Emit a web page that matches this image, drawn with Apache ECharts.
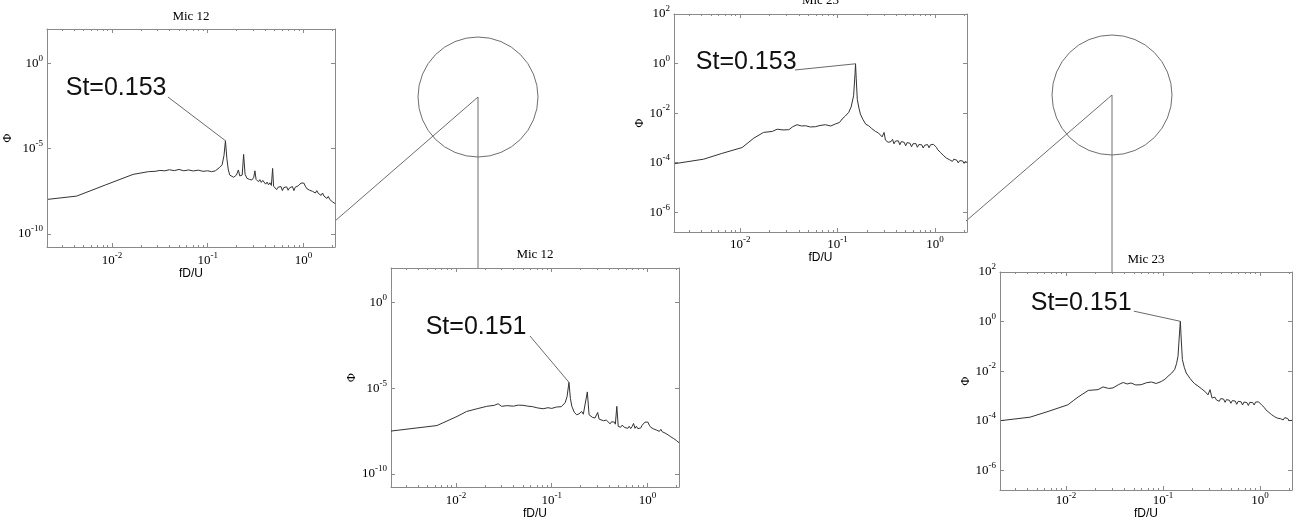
<!DOCTYPE html>
<html>
<head>
<meta charset="utf-8">
<script src="https://cdn.jsdelivr.net/npm/echarts@6/dist/echarts.min.js"></script>
<style>
  html, body { margin: 0; padding: 0; background: #fff; }
  #chart { width: 1296px; height: 524px; }
</style>
</head>
<body>
<div id="chart"></div>
<script>
// spectra, stored as log10 values (fD/U and Phi)
const m12aLogF = [-2.67,-2.37,-2.07,-1.78,-1.62,-1.55,-1.50,-1.45,-1.40,-1.35,-1.30,-1.25,-1.20,-1.15,-1.10,-1.05,-1.00,-0.96,-0.92,-0.88,-0.85,-0.83,-0.815,-0.80,-0.785,-0.77,-0.75,-0.73,-0.70,-0.68,-0.665,-0.64,-0.625,-0.61,-0.59,-0.565,-0.54,-0.52,-0.507,-0.495,
    -0.47,-0.455,-0.44,-0.425,-0.41,-0.395,-0.38,-0.365,-0.35,-0.335,-0.322,-0.312,
    -0.295,-0.28,-0.265,-0.25,-0.235,-0.22,-0.205,-0.19,-0.175,-0.16,-0.145,-0.13,-0.115,-0.10,-0.085,-0.07,-0.055,-0.04,-0.025,-0.01,
    0.005,0.02,0.035,0.05,0.065,0.08,0.095,0.11,0.125,0.14,0.155,0.17,0.185,0.20,0.215,0.23,0.245,0.26,0.275,0.29,0.305,0.32,0.33];
const m12aLogPhi = [-7.97,-7.78,-7.13,-6.51,-6.35,-6.33,-6.28,-6.30,-6.24,-6.29,-6.22,-6.30,-6.25,-6.31,-6.26,-6.33,-6.30,-6.35,-6.30,-6.12,-5.95,-5.40,-4.54,-5.60,-6.25,-6.55,-6.65,-6.68,-6.55,-6.25,-6.60,-6.55,-5.34,-6.50,-6.74,-6.80,-6.84,-6.70,-6.30,-6.80,
    -6.94,-6.82,-6.98,-6.86,-6.88,-7.08,-6.96,-7.12,-7.00,-7.16,-6.16,-7.20,
    -7.20,-7.40,-7.26,-7.36,-7.22,-7.46,-7.28,-7.38,-7.24,-7.44,-7.30,-7.40,-7.22,-7.46,-7.26,-7.36,-7.18,-7.22,-7.02,-6.94,
    -7.02,-7.20,-7.34,-7.24,-7.44,-7.36,-7.50,-7.40,-7.60,-7.46,-7.62,-7.54,-7.74,-7.60,-7.78,-7.70,-7.92,-7.80,-7.98,-7.94,-8.12,-8.08,-8.22];

const m23aLogF = [-2.67,-2.375,-2.19,-1.98,-1.92,-1.86,-1.76,-1.67,-1.62,-1.56,-1.50,-1.46,-1.416,-1.37,-1.33,-1.28,-1.228,-1.18,-1.125,-1.07,-1.022,-0.98,-0.953,-0.92,-0.885,-0.86,-0.835,-0.82,-0.815,-0.808,-0.797,-0.78,-0.765,-0.74,-0.71,-0.68,-0.65,-0.63,-0.61,-0.58,-0.56,-0.542,-0.522,-0.508,
    -0.495,-0.48,-0.465,-0.45,-0.435,-0.42,-0.405,-0.39,-0.375,-0.36,-0.345,-0.33,-0.315,-0.30,-0.285,-0.27,-0.255,-0.24,-0.225,-0.21,-0.195,-0.18,-0.165,-0.15,-0.135,-0.12,-0.105,-0.09,-0.075,-0.06,-0.045,-0.03,-0.015,
    0.00,0.015,0.03,0.045,0.06,0.075,0.09,0.105,0.12,0.135,0.15,0.165,0.18,0.195,0.21,0.225,0.24,0.255,0.27,0.285,0.30,0.315,0.33];
const m23aLogPhi = [-4.04,-3.86,-3.63,-3.39,-3.20,-3.01,-2.78,-2.74,-2.65,-2.68,-2.67,-2.55,-2.47,-2.52,-2.51,-2.56,-2.55,-2.50,-2.47,-2.52,-2.44,-2.38,-2.24,-2.12,-1.97,-1.75,-1.30,-0.40,-0.01,-0.60,-1.45,-1.80,-2.04,-2.25,-2.45,-2.51,-2.62,-2.58,-2.74,-2.80,-2.88,-2.96,-2.78,-3.09,
    -3.04,-3.18,-3.10,-3.15,-3.06,-3.24,-3.13,-3.20,-3.12,-3.28,-3.15,-3.23,-3.18,-3.32,-3.19,-3.27,-3.22,-3.36,-3.24,-3.29,-3.23,-3.38,-3.27,-3.34,-3.28,-3.41,-3.30,-3.35,-3.27,-3.40,-3.28,-3.33,-3.26,
    -3.34,-3.38,-3.48,-3.50,-3.60,-3.63,-3.72,-3.72,-3.82,-3.80,-3.88,-3.84,-3.95,-3.86,-3.94,-3.90,-4.01,-3.92,-3.98,-3.93,-4.03,-3.94,-4.00];

const m12bLogF = [-2.68,-2.20,-1.99,-1.89,-1.78,-1.68,-1.60,-1.56,-1.524,-1.47,-1.40,-1.35,-1.30,-1.25,-1.20,-1.15,-1.09,-1.04,-1.00,-0.95,-0.90,-0.86,-0.84,-0.82,-0.805,-0.79,-0.765,-0.74,-0.715,-0.687,-0.67,-0.65,-0.628,-0.61,-0.60,-0.575,-0.548,-0.52,-0.505,-0.496,
    -0.46,-0.445,-0.43,-0.41,-0.39,-0.375,-0.36,-0.345,-0.335,-0.32,-0.305,
    -0.295,-0.28,-0.265,-0.25,-0.235,-0.22,-0.205,-0.19,-0.175,-0.16,-0.145,-0.13,-0.115,-0.10,-0.085,-0.07,-0.055,-0.04,-0.025,-0.008,
    0.005,0.02,0.035,0.05,0.065,0.08,0.095,0.11,0.125,0.14,0.155,0.17,0.185,0.20,0.215,0.23,0.245,0.26,0.275,0.29,0.305,0.32,0.33];
const m12bLogPhi = [-7.50,-7.18,-6.65,-6.36,-6.20,-6.06,-6.00,-5.91,-6.06,-6.02,-6.05,-5.99,-6.00,-6.05,-6.08,-6.15,-6.20,-6.14,-6.18,-6.10,-6.08,-5.85,-5.50,-4.66,-5.60,-6.06,-6.40,-6.55,-6.50,-6.36,-6.52,-6.49,-5.22,-6.55,-6.65,-6.70,-6.74,-6.42,-6.80,-6.84,
    -6.90,-6.80,-6.86,-6.88,-7.08,-6.96,-7.04,-6.98,-7.10,-6.06,-7.23,
    -7.14,-7.28,-7.16,-7.05,-7.30,-7.20,-7.34,-7.22,-7.36,-7.24,-7.06,-7.34,-7.22,-7.36,-7.26,-7.32,-7.16,-7.08,-6.98,-6.88,
    -6.98,-7.16,-7.28,-7.24,-7.38,-7.30,-7.44,-7.34,-7.52,-7.40,-7.54,-7.48,-7.62,-7.56,-7.72,-7.66,-7.84,-7.78,-7.94,-7.90,-8.06,-8.04,-8.18];

const m23bLogF = [-2.67,-2.37,-2.185,-1.98,-1.92,-1.876,-1.77,-1.67,-1.618,-1.56,-1.515,-1.46,-1.41,-1.37,-1.33,-1.28,-1.225,-1.17,-1.12,-1.07,-1.017,-0.98,-0.948,-0.91,-0.88,-0.86,-0.845,-0.83,-0.821,-0.812,-0.80,-0.78,-0.76,-0.72,-0.70,-0.673,-0.64,-0.62,-0.60,-0.587,-0.56,-0.536,-0.515,-0.494,
    -0.48,-0.465,-0.45,-0.435,-0.42,-0.405,-0.39,-0.375,-0.36,-0.345,-0.33,-0.315,-0.30,-0.285,-0.27,-0.255,-0.24,-0.225,-0.21,-0.195,-0.18,-0.165,-0.15,-0.135,-0.12,-0.105,-0.09,-0.075,-0.06,-0.045,-0.03,-0.015,
    0.00,0.015,0.03,0.045,0.06,0.075,0.09,0.105,0.12,0.135,0.15,0.165,0.18,0.195,0.21,0.225,0.24,0.255,0.27,0.285,0.30,0.315,0.33];
const m23bLogPhi = [-4.00,-3.86,-3.63,-3.36,-3.18,-3.05,-2.78,-2.75,-2.64,-2.70,-2.68,-2.55,-2.46,-2.52,-2.48,-2.56,-2.55,-2.47,-2.44,-2.50,-2.42,-2.33,-2.21,-2.08,-1.94,-1.70,-1.40,-0.50,0.01,-0.70,-1.54,-1.85,-2.08,-2.30,-2.40,-2.51,-2.60,-2.56,-2.72,-2.75,-2.85,-2.96,-2.75,-3.09,
    -3.14,-3.05,-3.16,-3.10,-3.22,-3.11,-3.18,-3.13,-3.26,-3.15,-3.22,-3.18,-3.30,-3.19,-3.25,-3.21,-3.34,-3.22,-3.28,-3.24,-3.37,-3.25,-3.33,-3.27,-3.39,-3.26,-3.34,-3.27,-3.37,-3.25,-3.31,-3.24,
    -3.30,-3.36,-3.44,-3.47,-3.56,-3.60,-3.66,-3.70,-3.76,-3.75,-3.84,-3.80,-3.90,-3.83,-3.92,-3.87,-3.97,-3.88,-3.96,-3.91,-4.00,-3.92,-3.99];

// tick exponents
const xTickExp = [-2, -1, 0];
const yTickExpWide = [0, -5, -10];
const yTickExpNarrow = [2, 0, -2, -4, -6];
const minorMult = [2, 3, 4, 5, 6, 7, 8, 9];

const X_MIN = -2.68, X_MAX = 0.33;
const BOX = '#8a8a8a';
const INK = '#333333';

const panels = [
    { title: 'Mic 12', box: [47, 29, 288, 218], yMin: -10.76, yMax: 2, yTicks: yTickExpWide,
      f: m12aLogF, phi: m12aLogPhi, note: 'St=0.153', noteAt: [-1.426, -1.46], leadFrom: [-1.416, -1.98],
      labelMargin: 4, xGap: 15, yGap: 30, titleGap: 6 },
    { title: 'Mic 23', box: [674, 14, 293, 218], yMin: -6.8, yMax: 2, yTicks: yTickExpNarrow,
      f: m23aLogF, phi: m23aLogPhi, note: 'St=0.153', noteAt: [-1.416, 0.06], leadFrom: [-1.437, -0.26],
      labelMargin: 3, xGap: 17, yGap: 22, titleGap: 7 },
    { title: 'Mic 12', box: [391, 268, 288, 219], yMin: -10.76, yMax: 2, yTicks: yTickExpWide,
      f: m12bLogF, phi: m12bLogPhi, note: 'St=0.151', noteAt: [-1.259, -1.44], leadFrom: [-1.228, -1.96],
      labelMargin: 4, xGap: 19, yGap: 29, titleGap: 7 },
    { title: 'Mic 23', box: [1000, 272, 292, 218], yMin: -6.8, yMax: 2, yTicks: yTickExpNarrow,
      f: m23bLogF, phi: m23bLogPhi, note: 'St=0.151', noteAt: [-1.319, 0.75], leadFrom: [-1.30, 0.42],
      labelMargin: 1, xGap: 16, yGap: 27, titleGap: 6 }
];

// zoom circles with their leader lines
const callouts = [
    { cx: 478, cy: 97, r: 60, to: [[335, 221], [478, 268]] },
    { cx: 1112, cy: 95, r: 60, to: [[966, 221], [1112, 272]] }
];

function minorTicks(lo, hi) {
    const out = [];
    for (let n = -3; n <= 0; n++) {
        minorMult.forEach(k => {
            const v = n + Math.log10(k);
            if (v > lo && v < hi) out.push(v);
        });
    }
    return out;
}

const powRich = {
    b: { fontFamily: 'Liberation Serif', fontSize: 13, color: '#000', lineHeight: 19 },
    s: { fontFamily: 'Liberation Serif', fontSize: 9, color: '#000', lineHeight: 11, verticalAlign: 'top' }
};
const powLabel = v => `{b|10}{s|${Math.round(v)}}`;

const grids = [], xAxes = [], yAxes = [], series = [];

panels.forEach((p, i) => {
    grids.push({ left: p.box[0], top: p.box[1], width: p.box[2], height: p.box[3],
        containLabel: false, outerBoundsMode: 'none' });
    const xMinor = minorTicks(X_MIN, X_MAX);
    const baseX = {
        gridIndex: i, type: 'value', min: X_MIN, max: X_MAX,
        splitLine: { show: false }, axisPointer: { show: false }
    };
    const tick = (vals, len) => ({ show: true, inside: true, length: len, customValues: vals, lineStyle: { color: BOX, width: 1 } });
    // bottom: labels + major ticks
    xAxes.push(Object.assign({}, baseX, {
        position: 'bottom',
        axisLine: { show: true, onZero: false, lineStyle: { color: BOX, width: 1 } },
        axisTick: tick(xTickExp, 4),
        axisLabel: { show: true, customValues: xTickExp, margin: p.labelMargin, formatter: powLabel, rich: powRich },
        name: 'fD/U', nameLocation: 'middle', nameGap: p.xGap,
        nameTextStyle: { fontFamily: 'Liberation Sans', fontSize: 12, color: '#000' }
    }));
    xAxes.push(Object.assign({}, baseX, {
        position: 'bottom', axisLine: { show: false, onZero: false },
        axisTick: tick(xMinor, 2), axisLabel: { show: false }
    }));
    // top: box edge, title
    xAxes.push(Object.assign({}, baseX, {
        position: 'top',
        axisLine: { show: true, onZero: false, lineStyle: { color: BOX, width: 1 } },
        axisTick: tick(xTickExp, 4), axisLabel: { show: false },
        name: p.title, nameLocation: 'middle', nameGap: p.titleGap,
        nameTextStyle: { fontFamily: 'Liberation Serif', fontSize: 13, color: '#000' }
    }));
    xAxes.push(Object.assign({}, baseX, {
        position: 'top', axisLine: { show: false, onZero: false },
        axisTick: tick(xMinor, 2), axisLabel: { show: false }
    }));

    const baseY = {
        gridIndex: i, type: 'value', min: p.yMin, max: p.yMax,
        splitLine: { show: false }, axisPointer: { show: false }
    };
    yAxes.push(Object.assign({}, baseY, {
        position: 'left',
        axisLine: { show: true, onZero: false, lineStyle: { color: BOX, width: 1 } },
        axisTick: tick(p.yTicks, 4),
        axisLabel: { show: true, customValues: p.yTicks, margin: 4, formatter: powLabel, rich: powRich },
        name: 'Φ', nameLocation: 'middle', nameGap: p.yGap, nameRotate: 90,
        nameTextStyle: { fontFamily: 'Liberation Serif', fontSize: 12, color: '#000' }
    }));
    yAxes.push(Object.assign({}, baseY, {
        position: 'right',
        axisLine: { show: true, onZero: false, lineStyle: { color: BOX, width: 1 } },
        axisTick: tick(p.yTicks, 4), axisLabel: { show: false }
    }));

    const data = p.f.map((x, k) => [x, p.phi[k]]);
    let peak = 0;
    p.phi.forEach((v, k) => { if (v > p.phi[peak]) peak = k; });

    series.push({
        type: 'line',
        xAxisIndex: i * 4, yAxisIndex: i * 2,
        data: data,
        showSymbol: false, symbol: 'none',
        lineStyle: { color: INK, width: 1 },
        silent: true,
        markLine: {
            silent: true, symbol: ['none', 'none'],
            lineStyle: { color: '#6a6a6a', width: 1, type: 'solid' },
            label: { show: false },
            data: [[{ coord: p.leadFrom }, { coord: data[peak] }]]
        },
        markPoint: {
            silent: true, symbol: 'circle', symbolSize: 1,
            itemStyle: { color: 'rgba(0,0,0,0)' },
            label: {
                show: true, position: 'left', distance: 0, formatter: p.note,
                fontFamily: 'Liberation Sans', fontSize: 25, color: '#111'
            },
            data: [{ coord: p.noteAt }]
        }
    });
});

const graphic = [];
callouts.forEach(c => {
    graphic.push({ type: 'circle', silent: true, shape: { cx: c.cx, cy: c.cy, r: c.r },
        style: { fill: 'none', stroke: '#6e6e6e', lineWidth: 1 } });
    c.to.forEach(pt => {
        graphic.push({ type: 'line', silent: true,
            shape: { x1: c.cx, y1: c.cy, x2: pt[0], y2: pt[1] },
            style: { stroke: '#6e6e6e', lineWidth: 1 } });
    });
});

const chart = echarts.init(document.getElementById('chart'));
chart.setOption({
    animation: false,
    backgroundColor: '#fff',
    grid: grids,
    xAxis: xAxes,
    yAxis: yAxes,
    series: series,
    graphic: graphic
});
</script>
</body>
</html>
